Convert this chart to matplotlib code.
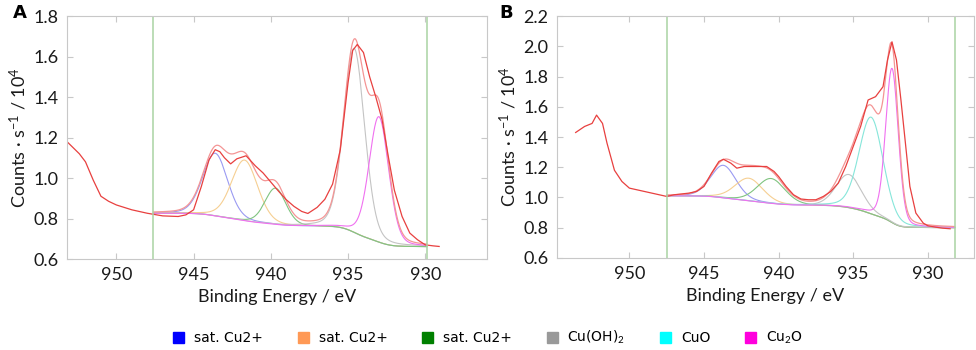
import numpy as np
import matplotlib.pyplot as plt
from matplotlib.patches import Patch

plt.rcParams['font.family'] = ['Lato', 'DejaVu Sans']
plt.rcParams['mathtext.fontset'] = 'custom'
plt.rcParams['mathtext.rm'] = 'Lato'
plt.rcParams['mathtext.it'] = 'Lato'

# legend
names = ['sat. Cu2+', 'sat. Cu2+', 'sat. Cu2+', 'Cu(OH)$_2$', 'CuO', 'Cu$_2$O']
legend_colors = ['#0000ff', '#ff9955', '#008000', '#999999', '#00ffff', '#ff00dd']
line_colors = ['#9a9af2', '#f6cf92', '#80c480', '#c4c4c4', '#86e6da', '#f070f0']

# ---- panel A : measured spectrum (binding energy eV, counts/s /1e4)
be_a = [953.2, 952.8, 952.4, 952.0, 951.5, 951.0, 950.5, 950.0, 949.0, 948.0,
        947.0, 946.0, 945.5, 945.0, 944.5, 944.0, 943.6, 943.3, 943.0, 942.6,
        942.2, 941.6, 941.0, 940.5, 940.0, 939.5, 939.0, 938.5, 938.0, 937.6,
        937.0, 936.5, 936.0, 935.5, 935.0, 934.7, 934.4, 934.0, 933.6, 933.2,
        932.8, 932.4, 932.0, 931.5, 931.0, 930.5, 930.0, 929.5, 929.1]
cts_a = [1.18, 1.15, 1.12, 1.08, 0.99, 0.91, 0.885, 0.867, 0.843, 0.826,
         0.813, 0.81, 0.818, 0.843, 0.958, 1.09, 1.14, 1.13, 1.10, 1.07,
         1.095, 1.11, 1.06, 1.025, 0.98, 0.935, 0.893, 0.86, 0.835, 0.825,
         0.855, 0.895, 0.97, 1.14, 1.47, 1.63, 1.66, 1.62, 1.50, 1.40,
         1.29, 1.11, 0.94, 0.81, 0.728, 0.695, 0.67, 0.665, 0.662]
# fit components A: centre, height, fwhm (None = not present)
cen_a = [943.6, 941.7, 939.7, 934.6, None, 933.0]
hgt_a = [0.31, 0.30, 0.18, 0.91, 0.0, 0.62]
fwhm_a = [1.9, 2.0, 1.6, 1.6, 1.0, 1.5]
bg_a = [0.661, 0.826]          # Shirley end levels (low BE, high BE)
win_a = [929.9, 947.6]

# ---- panel B
be_b = [953.6, 953.0, 952.5, 952.2, 951.8, 951.5, 951.0, 950.5, 950.0, 949.0,
        948.0, 947.5, 947.0, 946.0, 945.5, 945.0, 944.5, 944.0, 943.7, 943.2,
        942.8, 942.3, 941.5, 940.8, 940.3, 940.0, 939.5, 939.0, 938.5, 938.0,
        937.5, 937.0, 936.5, 936.0, 935.5, 935.0, 934.5, 934.0, 933.5, 933.0,
        932.7, 932.4, 932.1, 931.8, 931.5, 931.2, 930.8, 930.3, 930.0, 929.5,
        929.0, 928.5]
cts_b = [1.43, 1.47, 1.49, 1.545, 1.49, 1.36, 1.18, 1.106, 1.062, 1.04,
         1.018, 1.007, 1.018, 1.029, 1.04, 1.073, 1.16, 1.238, 1.253, 1.227,
         1.194, 1.205, 1.205, 1.205, 1.172, 1.139, 1.073, 1.018, 0.99, 0.985,
         0.985, 1.007, 1.04, 1.095, 1.205, 1.337, 1.47, 1.645, 1.667, 1.733,
         1.91, 2.03, 1.91, 1.645, 1.36, 1.073, 0.897, 0.83, 0.813, 0.804,
         0.797, 0.793]
cen_b = [943.7, 942.0, 940.5, 935.3, 933.8, 932.4]
hgt_b = [0.215, 0.15, 0.165, 0.22, 0.64, 1.02]
fwhm_b = [2.0, 2.2, 2.2, 2.0, 1.9, 1.0]
bg_b = [0.80, 1.011]
win_b = [928.2, 947.5]

eta = 0.2  # lorentzian fraction of the pseudo-voigt line shape


def peak(x, c, h, w):
    g = np.exp(-4 * np.log(2) * (x - c) ** 2 / w ** 2)
    l = 1 / (1 + 4 * (x - c) ** 2 / w ** 2)
    return h * ((1 - eta) * g + eta * l)


def draw(ax, be, cts, cen, hgt, fwhm, bg, win, ylim, yt, xlim):
    x = np.linspace(win[0], win[1], 800)
    comps = [peak(x, c, h, w) if c is not None else None
             for c, h, w in zip(cen, hgt, fwhm)]
    tot = sum(p for p in comps if p is not None)
    cum = np.cumsum(tot)
    shirley = bg[0] + (bg[1] - bg[0]) * cum / cum[-1]
    for p, col in zip(comps, line_colors):
        if p is None:
            continue
        ax.plot(x, shirley + p, color=col, lw=0.8)
    ax.plot(x, shirley + tot, color='#f49595', lw=0.9)
    ax.plot(be, cts, color='#e8403f', lw=0.9)
    for v in win:
        ax.axvline(v, color='#a9d3a3', lw=1.1)
    ax.set_xlim(xlim)
    ax.set_ylim(ylim)
    ax.set_xticks([950, 945, 940, 935, 930])
    ax.set_yticks(yt)
    ax.set_yticklabels(['%.1f' % t for t in yt])
    ax.tick_params(direction='in', top=True, right=True, length=4,
                   color='#c8c8c8', labelsize=13, pad=6, labelcolor='#1a1a1a')
    for s in ax.spines.values():
        s.set_color('#c8c8c8')
    ax.set_xlabel('Binding Energy / eV', fontsize=13, color='#1a1a1a', labelpad=4)
    ax.set_ylabel('Counts · s$^{-1}$ / 10$^4$', fontsize=13, color='#1a1a1a',
                  labelpad=3)


fig = plt.figure(figsize=(9.76, 3.5), dpi=100)
axA = fig.add_axes([0.0686, 0.26, 0.4304, 0.694])
axB = fig.add_axes([0.5707, 0.263, 0.4273, 0.691])

draw(axA, be_a, cts_a, cen_a, hgt_a, fwhm_a, bg_a, win_a,
     (0.6, 1.8), np.arange(0.6, 1.81, 0.2), (953.2, 926.0))
draw(axB, be_b, cts_b, cen_b, hgt_b, fwhm_b, bg_b, win_b,
     (0.6, 2.2), np.arange(0.6, 2.21, 0.2), (954.85, 926.9))

fig.text(0.013, 0.95, 'A', fontsize=13, fontweight='bold', family='DejaVu Sans')
fig.text(0.512, 0.95, 'B', fontsize=13, fontweight='bold', family='DejaVu Sans')

handles = [Patch(color=c, label=n) for c, n in zip(legend_colors, names)]
fig.legend(handles=handles, loc='center', bbox_to_anchor=(0.5, 0.035), ncol=6,
           frameon=False, handlelength=0.8, handleheight=0.8, columnspacing=2.5,
           handletextpad=0.7, prop={'family': 'DejaVu Sans', 'size': 10})

fig.savefig('out.png', dpi=100)
